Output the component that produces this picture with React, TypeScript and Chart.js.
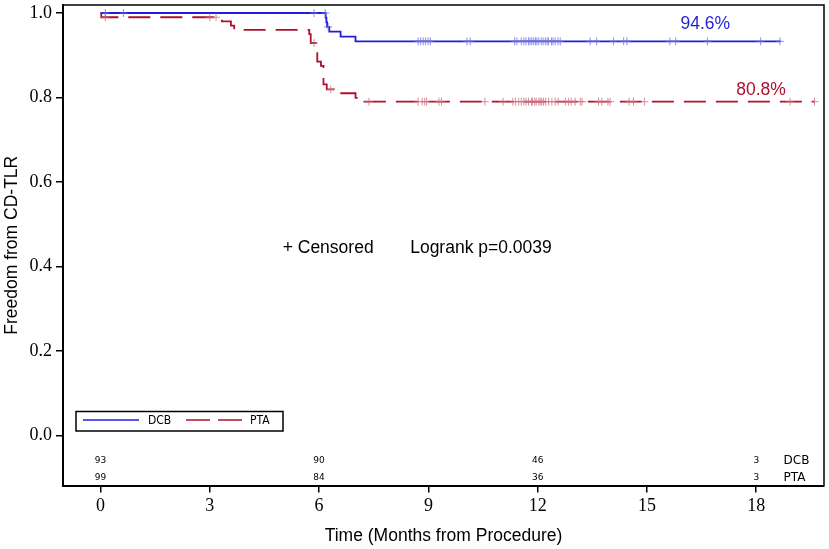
import { useEffect, useRef } from "react";
import { Chart, registerables } from "chart.js";

Chart.register(...registerables);

const DCB_COLOR = "#1f1fd8";
const PTA_COLOR = "#b0102a";
const DCB_CENSOR = "rgba(110,110,225,0.75)";
const PTA_CENSOR = "rgba(200,110,130,0.75)";

// Kaplan-Meier steps (months, survival)
const dcbTimes = [0, 6.18, 6.2, 6.22, 6.28, 6.59, 7.0, 18.67];
const dcbSurv = [1.0, 0.989, 0.978, 0.967, 0.956, 0.944, 0.933, 0.933];

const ptaTimes = [0, 0.02, 3.33, 3.58, 3.67, 5.73, 5.77, 5.95, 6.05, 6.12, 6.21, 6.41, 7.0, 7.24, 19.6];
const ptaSurv = [1.0, 0.99, 0.98, 0.97, 0.96, 0.95, 0.929, 0.885, 0.875, 0.831, 0.819, 0.81, 0.799, 0.79, 0.79];

// censored observations (months)
const dcbCensored = [
  0.13, 0.63, 5.86, 6.17, 6.25, 8.72, 8.79, 8.86, 8.92, 8.99, 9.05, 10.06, 10.15,
  11.37, 11.43, 11.55, 11.62, 11.68, 11.75, 11.79, 11.84, 11.89, 11.94, 11.98, 12.03,
  12.1, 12.15, 12.21, 12.26, 12.3, 12.38, 12.42, 12.48, 12.56, 12.62, 13.44, 13.62,
  14.08, 14.36, 14.45, 15.63, 15.79, 16.66, 18.12, 18.65,
];
const ptaCensored = [
  0.13, 3.0, 3.17, 5.86, 6.32, 7.37, 8.72, 8.83, 8.9, 8.95, 9.29, 9.36, 10.55, 11.05,
  11.32, 11.39, 11.48, 11.55, 11.62, 11.68, 11.75, 11.83, 11.86, 11.92, 11.96, 12.03,
  12.07, 12.11, 12.16, 12.22, 12.3, 12.39, 12.48, 12.56, 12.76, 12.85, 12.92, 13.03,
  13.17, 13.22, 13.67, 13.76, 13.93, 13.99, 14.51, 14.63, 14.93, 18.93, 19.6,
];

// numbers at risk
const riskTimes = [0, 6, 12, 18];
const dcbAtRisk = [93, 90, 46, 3];
const ptaAtRisk = [99, 84, 36, 3];

const xTicks = [0, 3, 6, 9, 12, 15, 18];
const yTicks = [0, 0.2, 0.4, 0.6, 0.8, 1.0];

const survAt = (times: number[], surv: number[], t: number) => {
  let s = surv[0];
  for (let i = 0; i < times.length; i++) if (times[i] <= t) s = surv[i];
  return s;
};

const toPoints = (times: number[], surv: number[]) => times.map((t, i) => ({ x: t, y: surv[i] }));

const noPad = (s: any) => {
  s.paddingTop = 0;
  s.paddingBottom = 0;
  s.paddingLeft = 0;
  s.paddingRight = 0;
};

const overlayPlugin = {
  id: "overlay",
  afterDraw(chart: any) {
    const { ctx, chartArea: a, scales } = chart;
    const xs = scales.x;
    const ys = scales.y;
    ctx.save();

    // frame top / right
    ctx.strokeStyle = "#000";
    ctx.lineWidth = 1.5;
    ctx.beginPath();
    ctx.moveTo(a.left, a.top);
    ctx.lineTo(a.right, a.top);
    ctx.lineTo(a.right, a.bottom);
    ctx.stroke();

    const sans = "'Liberation Sans', Arial, sans-serif";
    ctx.textBaseline = "middle";
    ctx.font = `17.5px ${sans}`;
    ctx.textAlign = "center";
    ctx.fillStyle = DCB_COLOR;
    ctx.fillText("94.6%", xs.getPixelForValue(16.6), ys.getPixelForValue(0.974));
    ctx.fillStyle = PTA_COLOR;
    ctx.fillText("80.8%", xs.getPixelForValue(18.13), ys.getPixelForValue(0.818));

    ctx.fillStyle = "#000";
    ctx.textAlign = "left";
    ctx.fillText("+ Censored", xs.getPixelForValue(5.0), ys.getPixelForValue(0.443));
    ctx.fillText("Logrank p=0.0039", xs.getPixelForValue(8.5), ys.getPixelForValue(0.443));

    // at-risk table
    ctx.font = "9px 'DejaVu Sans', sans-serif";
    ctx.textAlign = "center";
    riskTimes.forEach((t, i) => {
      ctx.fillText(String(dcbAtRisk[i]), xs.getPixelForValue(t), ys.getPixelForValue(-0.06));
      ctx.fillText(String(ptaAtRisk[i]), xs.getPixelForValue(t), ys.getPixelForValue(-0.101));
    });
    ctx.font = "12px 'DejaVu Sans', sans-serif";
    ctx.textAlign = "left";
    ctx.fillText("DCB", xs.getPixelForValue(18.75), ys.getPixelForValue(-0.06));
    ctx.fillText("PTA", xs.getPixelForValue(18.75), ys.getPixelForValue(-0.101));

    // legend box
    const lx = a.left + 13;
    const ly = a.bottom - 74;
    ctx.lineWidth = 1.5;
    ctx.strokeRect(lx, ly, 207, 19.5);
    const my = ly + 8.5;
    ctx.strokeStyle = DCB_COLOR;
    ctx.beginPath();
    ctx.moveTo(lx + 7, my);
    ctx.lineTo(lx + 63, my);
    ctx.stroke();
    ctx.strokeStyle = PTA_COLOR;
    ctx.setLineDash([24, 8]);
    ctx.beginPath();
    ctx.moveTo(lx + 110, my);
    ctx.lineTo(lx + 166, my);
    ctx.stroke();
    ctx.setLineDash([]);
    ctx.fillStyle = "#000";
    ctx.font = "12px 'DejaVu Sans Condensed', 'DejaVu Sans', sans-serif";
    ctx.fillText("DCB", lx + 72, my + 1);
    ctx.fillText("PTA", lx + 174, my + 1);

    ctx.restore();
  },
};

export default function App() {
  const canvasRef = useRef<HTMLCanvasElement | null>(null);

  useEffect(() => {
    if (!canvasRef.current) return;
    const ctx = canvasRef.current.getContext("2d");
    if (!ctx) return;

    const serif = "'Liberation Serif', 'Times New Roman', serif";
    const sans = "'Liberation Sans', Arial, sans-serif";

    const chart = new Chart(ctx, {
      type: "line",
      data: {
        datasets: [
          {
            type: "scatter",
            label: "DCB censored",
            data: dcbCensored.map((t) => ({ x: t, y: survAt(dcbTimes, dcbSurv, t) })),
            pointStyle: "cross",
            pointRadius: 4,
            pointBorderWidth: 1,
            borderColor: DCB_CENSOR,
            backgroundColor: DCB_CENSOR,
            showLine: false,
          },
          {
            type: "scatter",
            label: "PTA censored",
            data: ptaCensored.map((t) => ({ x: t, y: survAt(ptaTimes, ptaSurv, t) })),
            pointStyle: "cross",
            pointRadius: 4,
            pointBorderWidth: 1,
            borderColor: PTA_CENSOR,
            backgroundColor: PTA_CENSOR,
            showLine: false,
          },
          {
            label: "DCB",
            data: toPoints(dcbTimes, dcbSurv),
            stepped: "before",
            borderColor: DCB_COLOR,
            borderWidth: 1.8,
            pointRadius: 0,
            fill: false,
          },
          {
            label: "PTA",
            data: toPoints(ptaTimes, ptaSurv),
            stepped: "before",
            borderColor: PTA_COLOR,
            borderWidth: 1.8,
            borderDash: [22, 10],
            pointRadius: 0,
            fill: false,
          },
        ],
      },
      options: {
        animation: false,
        responsive: true,
        maintainAspectRatio: false,
        layout: { padding: { top: 3, right: 1, left: 0, bottom: 0 } },
        plugins: { legend: { display: false }, tooltip: { enabled: false } },
        scales: {
          x: {
            type: "linear",
            min: -1.03,
            max: 19.86,
            afterBuildTicks: (s: any) => {
              s.ticks = xTicks.map((v) => ({ value: v }));
            },
            afterFit: (s: any) => {
              s.height = 63.5;
              noPad(s);
            },
            border: { color: "#000", width: 2 },
            grid: { display: true, drawOnChartArea: false, drawTicks: true, tickLength: 7, color: "#000", lineWidth: 1.5 },
            ticks: { color: "#000", font: { family: serif, size: 18 }, padding: 3, maxRotation: 0, autoSkip: false },
            title: {
              display: true,
              text: "Time (Months from Procedure)",
              color: "#000",
              font: { family: sans, size: 17.5 },
              padding: { top: 0, bottom: 2 },
            },
          },
          y: {
            type: "linear",
            min: -0.119,
            max: 1.019,
            afterBuildTicks: (s: any) => {
              s.ticks = yTicks.map((v) => ({ value: v }));
            },
            afterFit: (s: any) => {
              s.width = 63;
              noPad(s);
            },
            border: { color: "#000", width: 2 },
            grid: { display: true, drawOnChartArea: false, drawTicks: true, tickLength: 7, color: "#000", lineWidth: 1.5 },
            ticks: {
              color: "#000",
              font: { family: serif, size: 18 },
              padding: 4,
              callback: (v: any) => Number(v).toFixed(1),
            },
            title: {
              display: true,
              text: "Freedom from CD-TLR",
              color: "#000",
              font: { family: sans, size: 17.5 },
              padding: { top: 2, bottom: 0 },
            },
          },
        },
      },
      plugins: [overlayPlugin],
    });

    return () => {
      chart.destroy();
    };
  }, []);

  return (
    <div style={{ position: "fixed", left: 0, top: 0, width: 829, height: 549, background: "#fff" }}>
      <canvas ref={canvasRef}></canvas>
    </div>
  );
}
